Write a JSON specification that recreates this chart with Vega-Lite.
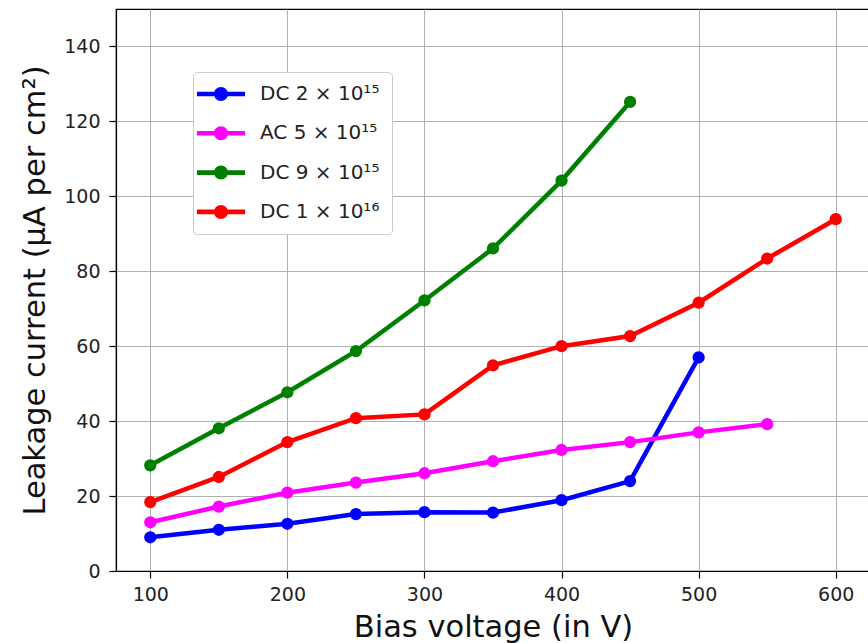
{
  "$schema": "https://vega.github.io/schema/vega-lite/v6.json",
  "autosize": {"type": "none"},
  "padding": {"left": 116, "top": 9, "right": 0, "bottom": 72},
  "width": 754,
  "height": 562,
  "background": "white",
  "config": {
    "font": "DejaVu Sans",
    "view": {"stroke": "black", "strokeWidth": 1.2},
    "axis": {
      "grid": true, "gridColor": "#b0b0b0", "gridWidth": 1,
      "domainColor": "black", "domainWidth": 1.2,
      "tickColor": "black", "tickSize": 7, "tickWidth": 1.2,
      "labelFont": "DejaVu Sans", "labelFontSize": 19, "labelColor": "#222222",
      "titleFont": "DejaVu Sans", "titleFontSize": 30.5, "titleFontWeight": "normal", "titleColor": "#111111"
    }
  },
  "data": {"values": [
    {"series": "DC 2 × 10¹⁵", "voltage": 100, "current": 9.0},
    {"series": "DC 2 × 10¹⁵", "voltage": 150, "current": 11.0},
    {"series": "DC 2 × 10¹⁵", "voltage": 200, "current": 12.6},
    {"series": "DC 2 × 10¹⁵", "voltage": 250, "current": 15.2},
    {"series": "DC 2 × 10¹⁵", "voltage": 300, "current": 15.7},
    {"series": "DC 2 × 10¹⁵", "voltage": 350, "current": 15.6},
    {"series": "DC 2 × 10¹⁵", "voltage": 400, "current": 18.9},
    {"series": "DC 2 × 10¹⁵", "voltage": 450, "current": 24.0},
    {"series": "DC 2 × 10¹⁵", "voltage": 500, "current": 57.0},
    {"series": "AC 5 × 10¹⁵", "voltage": 100, "current": 13.0},
    {"series": "AC 5 × 10¹⁵", "voltage": 150, "current": 17.2},
    {"series": "AC 5 × 10¹⁵", "voltage": 200, "current": 20.9},
    {"series": "AC 5 × 10¹⁵", "voltage": 250, "current": 23.6},
    {"series": "AC 5 × 10¹⁵", "voltage": 300, "current": 26.1},
    {"series": "AC 5 × 10¹⁵", "voltage": 350, "current": 29.3},
    {"series": "AC 5 × 10¹⁵", "voltage": 400, "current": 32.3},
    {"series": "AC 5 × 10¹⁵", "voltage": 450, "current": 34.4},
    {"series": "AC 5 × 10¹⁵", "voltage": 500, "current": 37.0},
    {"series": "AC 5 × 10¹⁵", "voltage": 550, "current": 39.2},
    {"series": "DC 9 × 10¹⁵", "voltage": 100, "current": 28.2},
    {"series": "DC 9 × 10¹⁵", "voltage": 150, "current": 38.1},
    {"series": "DC 9 × 10¹⁵", "voltage": 200, "current": 47.7},
    {"series": "DC 9 × 10¹⁵", "voltage": 250, "current": 58.7},
    {"series": "DC 9 × 10¹⁵", "voltage": 300, "current": 72.2},
    {"series": "DC 9 × 10¹⁵", "voltage": 350, "current": 86.1},
    {"series": "DC 9 × 10¹⁵", "voltage": 400, "current": 104.2},
    {"series": "DC 9 × 10¹⁵", "voltage": 450, "current": 125.2},
    {"series": "DC 1 × 10¹⁶", "voltage": 100, "current": 18.4},
    {"series": "DC 1 × 10¹⁶", "voltage": 150, "current": 25.1},
    {"series": "DC 1 × 10¹⁶", "voltage": 200, "current": 34.4},
    {"series": "DC 1 × 10¹⁶", "voltage": 250, "current": 40.8},
    {"series": "DC 1 × 10¹⁶", "voltage": 300, "current": 41.8},
    {"series": "DC 1 × 10¹⁶", "voltage": 350, "current": 54.9},
    {"series": "DC 1 × 10¹⁶", "voltage": 400, "current": 60.0},
    {"series": "DC 1 × 10¹⁶", "voltage": 450, "current": 62.7},
    {"series": "DC 1 × 10¹⁶", "voltage": 500, "current": 71.6},
    {"series": "DC 1 × 10¹⁶", "voltage": 550, "current": 83.4},
    {"series": "DC 1 × 10¹⁶", "voltage": 600, "current": 93.9}
  ]},
  "encoding": {
    "x": {"field": "voltage", "type": "quantitative",
      "scale": {"domain": [75, 625], "nice": false, "zero": false},
      "axis": {"values": [100, 200, 300, 400, 500, 600], "title": "Bias voltage (in V)", "titlePadding": 8, "labelPadding": 7}},
    "y": {"field": "current", "type": "quantitative",
      "scale": {"domain": [0, 150], "nice": false},
      "axis": {"values": [0, 20, 40, 60, 80, 100, 120, 140], "title": "Leakage current (μA per cm²)", "titlePadding": 13, "labelPadding": 9}},
    "color": {"field": "series", "type": "nominal",
      "scale": {"domain": ["DC 2 × 10¹⁵", "AC 5 × 10¹⁵", "DC 9 × 10¹⁵", "DC 1 × 10¹⁶"],
                "range": ["#0000ff", "#ff00ff", "#008000", "#ff0000"]},
      "legend": {
        "title": null, "orient": "none", "legendX": 77, "legendY": 63,
        "fillColor": "white", "strokeColor": "#cccccc", "cornerRadius": 4, "padding": 12,
        "labelFont": "DejaVu Sans", "labelFontSize": 20, "labelColor": "#222222",
        "symbolType": "M -2.4 -0.23 H 2.4 V 0.23 H -2.4 Z M 0.7 0 A 0.7 0.7 0 1 1 -0.7 0 A 0.7 0.7 0 1 1 0.7 0 Z",
        "symbolSize": 400, "symbolStrokeWidth": 0, "symbolOpacity": 1,
        "symbolOffset": 6,
        "labelOffset": 29, "rowPadding": 19.3
      }}
  },
  "layer": [
    {"mark": {"type": "line", "strokeWidth": 4.5}},
    {"mark": {"type": "point", "filled": true, "size": 150, "opacity": 1}}
  ]
}
